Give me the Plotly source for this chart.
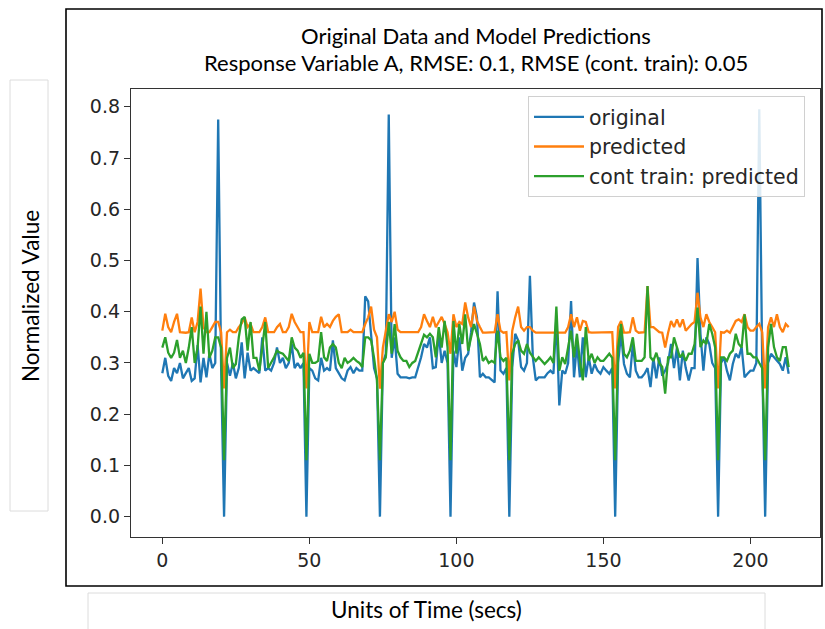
import plotly.graph_objects as go

# ---------------- data ----------------
original = [
    0.28, 0.31, 0.275, 0.265, 0.29, 0.28, 0.30, 0.27, 0.28, 0.29,
    0.265, 0.27, 0.335, 0.262, 0.31, 0.272, 0.318, 0.29, 0.30, 0.775,
    0.29, 0.0, 0.30, 0.275, 0.30, 0.27, 0.29, 0.34, 0.27, 0.32,
    0.285, 0.29, 0.285, 0.28, 0.35, 0.285, 0.29, 0.285, 0.30, 0.33,
    0.30, 0.31, 0.29, 0.30, 0.337, 0.29, 0.30, 0.29, 0.30, 0.0,
    0.29, 0.285, 0.27, 0.266, 0.31, 0.285, 0.29, 0.285, 0.344, 0.29,
    0.28, 0.27, 0.266, 0.285, 0.292, 0.28, 0.29, 0.285, 0.285, 0.43,
    0.42, 0.35, 0.29, 0.27, 0.0, 0.30, 0.318, 0.785, 0.31, 0.35,
    0.279, 0.272, 0.272, 0.272, 0.27, 0.272, 0.272, 0.29, 0.311, 0.337,
    0.33, 0.35, 0.29, 0.292, 0.357, 0.30, 0.324, 0.30, 0.0, 0.324,
    0.292, 0.35, 0.285, 0.31, 0.318, 0.36, 0.418, 0.389, 0.272, 0.279,
    0.272, 0.272, 0.266, 0.262, 0.44, 0.285, 0.279, 0.29, 0.0, 0.292,
    0.357, 0.344, 0.292, 0.285, 0.30, 0.47, 0.311, 0.266, 0.272, 0.272,
    0.272, 0.28, 0.285, 0.279, 0.389, 0.217, 0.285, 0.279, 0.30, 0.421,
    0.272, 0.337, 0.272, 0.35, 0.272, 0.311, 0.279, 0.298, 0.285, 0.279,
    0.292, 0.285, 0.279, 0.29, 0.0, 0.30, 0.357, 0.298, 0.279, 0.272,
    0.337, 0.285, 0.272, 0.272, 0.279, 0.29, 0.253, 0.31, 0.27, 0.311,
    0.275, 0.285, 0.30, 0.337, 0.29, 0.33, 0.266, 0.324, 0.29, 0.266,
    0.29, 0.29, 0.505, 0.357, 0.285, 0.35, 0.337, 0.30, 0.29, 0.0,
    0.30, 0.311, 0.285, 0.266, 0.298, 0.318, 0.31, 0.331, 0.272, 0.279,
    0.285, 0.285, 0.30, 0.795, 0.30, 0.0, 0.30, 0.318, 0.311, 0.304,
    0.298, 0.285, 0.311, 0.279,
]

predicted = [
    0.363, 0.396, 0.37, 0.36, 0.38, 0.396, 0.36, 0.359, 0.359, 0.36,
    0.389, 0.36, 0.38, 0.445, 0.37, 0.36, 0.36, 0.37, 0.38, 0.38,
    0.36, 0.25, 0.36, 0.365, 0.36, 0.36, 0.37, 0.377, 0.389, 0.37,
    0.376, 0.36, 0.36, 0.36, 0.37, 0.389, 0.36, 0.36, 0.36, 0.37,
    0.376, 0.36, 0.36, 0.37, 0.396, 0.38, 0.37, 0.36, 0.36, 0.25,
    0.38, 0.36, 0.36, 0.36, 0.39, 0.37, 0.376, 0.37, 0.382, 0.39,
    0.395, 0.36, 0.36, 0.36, 0.365, 0.36, 0.36, 0.36, 0.36, 0.376,
    0.389, 0.41, 0.365, 0.35, 0.25, 0.33, 0.365, 0.395, 0.38, 0.40,
    0.365, 0.36, 0.36, 0.36, 0.36, 0.36, 0.36, 0.36, 0.37, 0.395,
    0.382, 0.37, 0.39, 0.37, 0.38, 0.39, 0.376, 0.36, 0.318, 0.395,
    0.37, 0.38, 0.376, 0.418, 0.389, 0.37, 0.41, 0.382, 0.37, 0.359,
    0.359, 0.359, 0.359, 0.36, 0.395, 0.363, 0.359, 0.36, 0.266, 0.363,
    0.389, 0.41, 0.37, 0.363, 0.37, 0.37, 0.363, 0.359, 0.359, 0.359,
    0.359, 0.359, 0.359, 0.359, 0.359, 0.359, 0.359, 0.359, 0.37, 0.395,
    0.37, 0.389, 0.363, 0.382, 0.38, 0.36, 0.359, 0.359, 0.359, 0.359,
    0.359, 0.359, 0.36, 0.36, 0.25, 0.37, 0.382, 0.359, 0.359, 0.36,
    0.389, 0.363, 0.359, 0.359, 0.36, 0.45, 0.37, 0.37, 0.365, 0.36,
    0.359, 0.33, 0.359, 0.382, 0.37, 0.385, 0.37, 0.385, 0.363, 0.37,
    0.376, 0.38, 0.437, 0.389, 0.37, 0.395, 0.38, 0.37, 0.36, 0.25,
    0.36, 0.359, 0.363, 0.359, 0.37, 0.382, 0.385, 0.38, 0.395, 0.37,
    0.363, 0.363, 0.37, 0.376, 0.36, 0.25, 0.37, 0.389, 0.37, 0.395,
    0.37, 0.36, 0.376, 0.37,
]

cont_train_predicted = [
    0.33, 0.35, 0.32, 0.31, 0.32, 0.345, 0.31, 0.324, 0.30, 0.33,
    0.37, 0.30, 0.33, 0.41, 0.318, 0.40, 0.31, 0.324, 0.35, 0.35,
    0.33, 0.11, 0.31, 0.33, 0.29, 0.298, 0.35, 0.385, 0.39, 0.324,
    0.38, 0.31, 0.31, 0.285, 0.33, 0.38, 0.29, 0.30, 0.311, 0.324,
    0.32, 0.318, 0.31, 0.304, 0.35, 0.33, 0.324, 0.31, 0.32, 0.11,
    0.318, 0.30, 0.30, 0.304, 0.36, 0.311, 0.304, 0.33, 0.337, 0.33,
    0.30, 0.29, 0.31, 0.30, 0.304, 0.31, 0.304, 0.30, 0.292, 0.35,
    0.35, 0.344, 0.31, 0.266, 0.11, 0.30, 0.311, 0.38, 0.318, 0.376,
    0.324, 0.311, 0.304, 0.304, 0.292, 0.30, 0.304, 0.32, 0.337, 0.355,
    0.35, 0.357, 0.35, 0.311, 0.37, 0.33, 0.382, 0.33, 0.11, 0.382,
    0.318, 0.376, 0.337, 0.395, 0.324, 0.35, 0.376, 0.357, 0.337, 0.304,
    0.311, 0.30, 0.304, 0.30, 0.363, 0.311, 0.304, 0.31, 0.11, 0.318,
    0.337, 0.344, 0.324, 0.318, 0.337, 0.32, 0.311, 0.304, 0.311, 0.304,
    0.298, 0.304, 0.311, 0.30, 0.41, 0.285, 0.311, 0.298, 0.33, 0.363,
    0.311, 0.357, 0.304, 0.266, 0.37, 0.304, 0.318, 0.30, 0.311, 0.304,
    0.304, 0.311, 0.318, 0.31, 0.11, 0.33, 0.376, 0.318, 0.311, 0.324,
    0.35, 0.304, 0.304, 0.304, 0.311, 0.45, 0.311, 0.304, 0.32, 0.30,
    0.292, 0.24, 0.311, 0.311, 0.35, 0.331, 0.311, 0.318, 0.304, 0.318,
    0.318, 0.337, 0.408, 0.331, 0.344, 0.337, 0.376, 0.357, 0.33, 0.11,
    0.311, 0.311, 0.304, 0.318, 0.324, 0.357, 0.337, 0.33, 0.395, 0.318,
    0.318, 0.311, 0.311, 0.30, 0.29, 0.11, 0.33, 0.376, 0.331, 0.311,
    0.304, 0.331, 0.331, 0.292,
]

time_index = list(range(len(original)))

x_tick_values = [0, 50, 100, 150, 200]
y_tick_values = [0.0, 0.1, 0.2, 0.3, 0.4, 0.5, 0.6, 0.7, 0.8]
y_tick_labels = ["0.0", "0.1", "0.2", "0.3", "0.4", "0.5", "0.6", "0.7", "0.8"]

series_names = ["original", "predicted", "cont train: predicted"]
series_colors = ["#1f77b4", "#ff7f0e", "#2ca02c"]

title_line1 = "Original Data and Model Predictions"
title_line2 = "Response Variable A, RMSE: 0.1, RMSE (cont. train): 0.05"
x_label = "Units of Time (secs)"
y_label = "Normalized Value"

# ---------------- figure ----------------
W, H = 825, 629


def px_x(p):
    return p / W


def px_y(p):
    return 1 - p / H


fig = go.Figure()
for name, ys, col in zip(series_names, [original, predicted, cont_train_predicted], series_colors):
    fig.add_trace(go.Scatter(x=time_index, y=ys, mode="lines", name=name,
                             line=dict(color=col, width=2.3)))

n = len(time_index)
xr = [-(n - 1) * 0.05, (n - 1) * 1.05]
ymax = max(max(original), max(predicted), max(cont_train_predicted))
ymin = 0.0
yr = [ymin - 0.05 * (ymax - ymin), ymax + 0.05 * (ymax - ymin)]

tick_font = dict(family="DejaVu Sans", size=19, color="#262626")
slide_font = "Lato"

fig.update_layout(
    width=W, height=H,
    margin=dict(l=0, r=0, t=0, b=0),
    paper_bgcolor="white", plot_bgcolor="white",
    xaxis=dict(domain=[px_x(131), px_x(820)], range=xr, tickvals=x_tick_values,
               ticks="outside", ticklen=6, tickwidth=1.3, tickcolor="#333",
               showline=True, mirror=True, linecolor="#333", linewidth=1.3,
               showgrid=False, zeroline=False, tickfont=tick_font),
    yaxis=dict(domain=[px_y(537), px_y(89)], range=yr, tickvals=y_tick_values,
               ticktext=y_tick_labels,
               ticks="outside", ticklen=6, tickwidth=1.3, tickcolor="#333",
               showline=True, mirror=True, linecolor="#333", linewidth=1.3,
               showgrid=False, zeroline=False, tickfont=tick_font),
    legend=dict(x=px_x(528), y=px_y(96), xanchor="left", yanchor="top",
                bgcolor="rgba(255,255,255,0.85)", bordercolor="#d0d0d0", borderwidth=1,
                font=dict(family="DejaVu Sans", size=20.5, color="#262626"),
                itemwidth=50),
    showlegend=True,
)

# outer black frame and label boxes
fig.add_shape(type="rect", xref="paper", yref="paper",
              x0=px_x(66), x1=px_x(822), y0=px_y(586), y1=px_y(9),
              line=dict(color="black", width=1.6), fillcolor="rgba(0,0,0,0)", layer="below")
fig.add_shape(type="rect", xref="paper", yref="paper",
              x0=px_x(10), x1=px_x(48), y0=px_y(511), y1=px_y(80),
              line=dict(color="#dcdcdc", width=1), layer="below")
fig.add_shape(type="rect", xref="paper", yref="paper",
              x0=px_x(88), x1=px_x(765), y0=px_y(632), y1=px_y(593),
              line=dict(color="#dcdcdc", width=1), layer="below")

fig.add_annotation(text=title_line1, xref="paper", yref="paper",
                   x=px_x(476), y=px_y(35), showarrow=False,
                   xanchor="center", yanchor="middle",
                   font=dict(family=slide_font, size=22, color="black"))
fig.add_annotation(text=title_line2, xref="paper", yref="paper",
                   x=px_x(476), y=px_y(63), showarrow=False,
                   xanchor="center", yanchor="middle",
                   font=dict(family=slide_font, size=22, color="black"))
fig.add_annotation(text=x_label, xref="paper", yref="paper",
                   x=px_x(426), y=px_y(609), showarrow=False,
                   xanchor="center", yanchor="middle",
                   font=dict(family=slide_font, size=22.5, color="black"))
fig.add_annotation(text=y_label, xref="paper", yref="paper",
                   x=px_x(30), y=px_y(296), showarrow=False, textangle=-90,
                   xanchor="center", yanchor="middle",
                   font=dict(family=slide_font, size=22.5, color="black"))

fig.write_html("out.html")
